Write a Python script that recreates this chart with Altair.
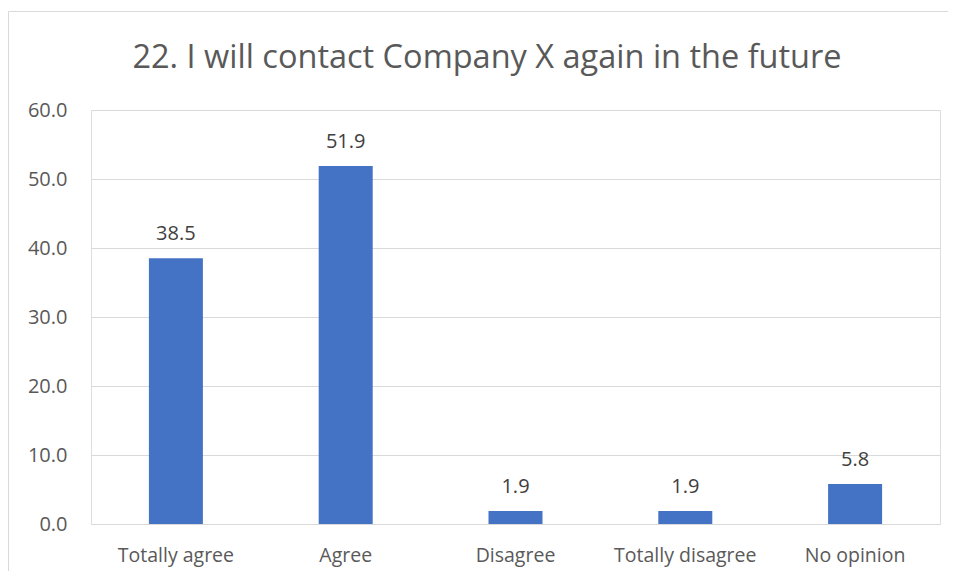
import altair as alt
import pandas as pd

categories = ["Totally agree", "Agree", "Disagree", "Totally disagree", "No opinion"]
values = [38.5, 51.9, 1.9, 1.9, 5.8]
y_ticks = [0, 10, 20, 30, 40, 50, 60]
title_text = "22. I will contact Company X again in the future"

df = pd.DataFrame({"cat": categories, "val": values})

FONT = "Open Sans"
TXT = "#595959"

x_enc = alt.X("cat:N", sort=categories, title=None,
              scale=alt.Scale(paddingInner=0, paddingOuter=0),
              axis=alt.Axis(labelAngle=0, domain=False, ticks=False, labelPadding=22,
                            labelFontSize=19.5, labelColor=TXT, labelFont=FONT))
y_enc = alt.Y("val:Q", title=None,
              scale=alt.Scale(domain=[0, 60], nice=False),
              axis=alt.Axis(values=y_ticks, format=".1f", domain=False, ticks=False,
                            labelPadding=24, labelFontSize=20, labelColor=TXT, labelFont=FONT,
                            gridColor="#d9d9d9", gridWidth=1))

bars = alt.Chart(df).mark_bar(width=54, color="#4472C4").encode(x=x_enc, y=y_enc)
labels = alt.Chart(df).mark_text(dy=-18, baseline="alphabetic", fontSize=20, font=FONT,
                                 color="#404040").encode(
    x=alt.X("cat:N", sort=categories),
    y=alt.Y("val:Q"),
    text=alt.Text("val:Q", format=".1f"))

one = alt.Data(values=[{"t": title_text}])
border = alt.Chart(one).mark_rect(
    fill=None, stroke="#d9d9d9", strokeWidth=1).encode(
    x=alt.value(-82.5), x2=alt.value(900), y=alt.value(-98.5), y2=alt.value(600))
title = alt.Chart(one).mark_text(font=FONT, fontSize=32.5, color=TXT, align="center",
                                 baseline="alphabetic").encode(
    x=alt.value(396), y=alt.value(-42), text="t:N")

chart = alt.layer(border, title, bars, labels).properties(
    width=849, height=414,
    padding={"left": 83, "top": 102, "right": 8, "bottom": 47},
    autosize=alt.AutoSizeParams(type="none"),
).configure_view(stroke=None).configure(background="white")

chart.save("out.html", embed_options={"renderer": "svg", "actions": False})
